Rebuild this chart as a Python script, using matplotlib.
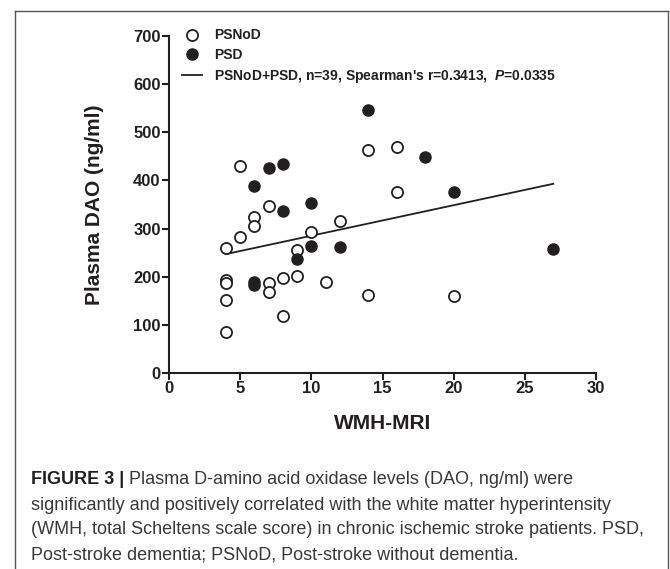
import matplotlib
matplotlib.use("Agg")
import matplotlib.pyplot as plt
from matplotlib.lines import Line2D

plt.rcParams['font.family'] = ['Liberation Sans', 'DejaVu Sans']
plt.rcParams['mathtext.fontset'] = 'custom'
plt.rcParams['mathtext.it'] = 'Liberation Sans:italic:bold'
plt.rcParams['mathtext.rm'] = 'Liberation Sans:bold'

# PSNoD (open circles)
psnod_x = [5, 6, 6, 7, 5, 4, 10, 12, 9, 4, 4, 7, 7, 8, 9, 11, 4, 8, 4, 14, 20, 16, 14, 16]
psnod_y = [430, 323, 305, 347, 283, 259, 292, 315, 255, 193, 187, 186, 168, 197, 202, 190, 152, 119, 85, 162, 159, 375, 463, 469]
# PSD (filled circles)
psd_x = [7, 8, 6, 8, 10, 10, 12, 9, 6, 6, 18, 20, 27, 14]
psd_y = [425, 434, 389, 336, 354, 264, 262, 236, 188, 183, 448, 375, 258, 546]
# regression line end points
fit_x = [4, 27]
fit_y = [247, 393]

xticks = [0, 5, 10, 15, 20, 25, 30]
yticks = [0, 100, 200, 300, 400, 500, 600, 700]

ink = '#231f20'
W, H = 670, 569
fig = plt.figure(figsize=(W / 100, H / 100), dpi=100)
ax = fig.add_axes([169 / W, 1 - 373 / H, (596 - 169) / W, (373 - 36) / H])

ax.plot(fit_x, fit_y, color=ink, lw=1.3, zorder=2)
ax.scatter(psnod_x, psnod_y, s=64, facecolors='white', edgecolors=ink, linewidths=1.3, zorder=3)
ax.scatter(psd_x, psd_y, s=64, facecolors=ink, edgecolors=ink, linewidths=1.0, zorder=3)

ax.set_xlim(0, 30)
ax.set_ylim(0, 700)
ax.set_xticks(xticks)
ax.set_yticks(yticks)
for s in ['top', 'right']:
    ax.spines[s].set_visible(False)
for s in ['left', 'bottom']:
    ax.spines[s].set_linewidth(1.5)
    ax.spines[s].set_color(ink)
ax.tick_params(axis='both', direction='out', length=5, width=1.5, color=ink,
               labelsize=12, labelcolor=ink, pad=1)
for lab in ax.get_xticklabels() + ax.get_yticklabels():
    lab.set_fontweight('bold')
ax.set_xlabel('WMH-MRI', fontsize=15, fontweight='bold', color=ink, labelpad=13)
ax.set_ylabel('Plasma DAO (ng/ml)', fontsize=15, fontweight='bold', color=ink, labelpad=21)

handles = [
    Line2D([], [], ls='none', marker='o', ms=8, mfc='white', mec=ink, mew=1.3),
    Line2D([], [], ls='none', marker='o', ms=8, mfc=ink, mec=ink),
    Line2D([], [], color=ink, lw=1.3),
]
labels = ['PSNoD', 'PSD', "PSNoD+PSD, n=39, Spearman's r=0.3413,  $P$=0.0335"]
leg = ax.legend(handles, labels, loc='upper left', bbox_to_anchor=(0.015, 1.043),
                frameon=False, prop={'weight': 'bold', 'size': 10},
                handlelength=1.4, handletextpad=0.9, labelspacing=0.42, borderpad=0)
for t in leg.get_texts():
    t.set_color(ink)

# outer frame
frame_col = '#555555'
fig.add_artist(Line2D([15 / W, 15 / W], [0, 1 - 11 / H], color=frame_col, lw=1.0))
fig.add_artist(Line2D([15 / W, 668 / W], [1 - 11 / H, 1 - 11 / H], color=frame_col, lw=1.0))
fig.add_artist(Line2D([668 / W, 668 / W], [0, 1 - 11 / H], color=frame_col, lw=1.0))

# caption
cap_col = '#383838'
lines = [
    "Plasma D-amino acid oxidase levels (DAO, ng/ml) were",
    "significantly and positively correlated with the white matter hyperintensity",
    "(WMH, total Scheltens scale score) in chronic ischemic stroke patients. PSD,",
    "Post-stroke dementia; PSNoD, Post-stroke without dementia.",
]
ys = [480, 505, 530, 555]
cx = 31 / W
fs = 13
t0 = fig.text(cx, 1 - ys[0] / H, "FIGURE 3 | ", fontsize=fs, fontweight='bold', color=ink, va='center')
fig.canvas.draw()
bb = t0.get_window_extent()
fig.text(bb.x1 / W, 1 - ys[0] / H, lines[0], fontsize=fs, color=cap_col, va='center')
for yy, ln in zip(ys[1:], lines[1:]):
    fig.text(cx, 1 - yy / H, ln, fontsize=fs, color=cap_col, va='center')

fig.savefig('out.png', dpi=100)
